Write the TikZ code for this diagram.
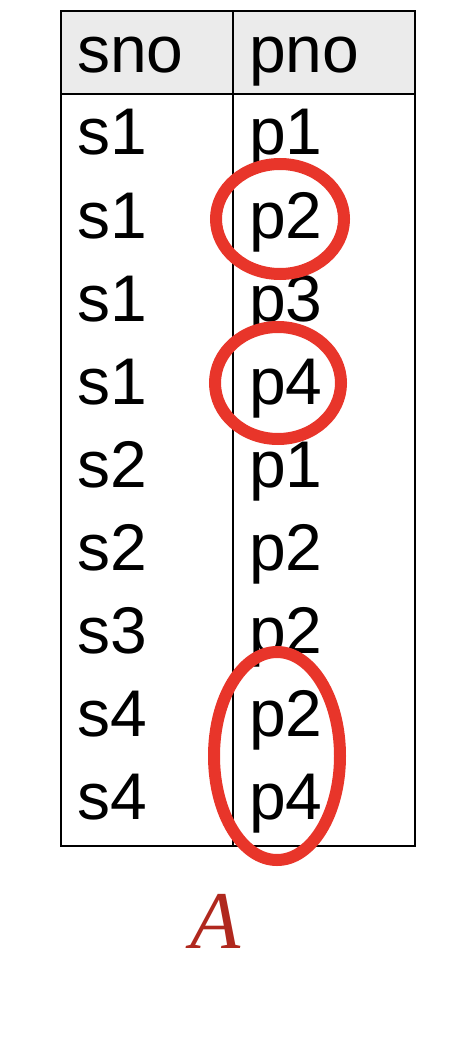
\documentclass[tikz,border=0pt]{standalone}
\usepackage{fontspec}
\setmainfont{Liberation Sans}
\newfontfamily\relfont{Liberation Serif}
\usetikzlibrary{shapes.geometric}
\definecolor{headgray}{HTML}{EBEBEB}
\definecolor{ringred}{HTML}{E8352A}
\definecolor{relred}{HTML}{B0281E}

\begin{document}
\begin{tikzpicture}[x=1pt,y=-1pt,
  cell/.style={anchor=base west,inner sep=0pt,font=\fontsize{66}{70}\selectfont},
  ring/.style={draw=ringred,line width=12pt,ellipse,inner sep=0pt}]
\useasboundingbox (0,0) rectangle (454,1048);
\fill[headgray] (61,11) rectangle (415,94);
\draw[line width=2pt]
     (61,11) rectangle (415,846);
\draw[line width=2pt]
     (61,94) -- (415,94);
\draw[line width=2pt]
     (233,11) -- (233,846);
\node[cell] (sno) at (77,73) {sno};
\node[cell] (pno) at (249,73) {pno};
\foreach \s/\p [count=\i] in {s1/p1,s1/p2,s1/p3,s1/p4,s2/p1,s2/p2,s3/p2,s4/p2,s4/p4}
{
  \node[cell] (s\i) at (77,{155+83.1*(\i-1)}) {\s};
  \node[cell] (p\i) at (249,{155+83.1*(\i-1)}) {\p};
}
\node[ring,minimum width=128,minimum height=110] (ring2) at (280,219) {};
\node[ring,minimum width=126,minimum height=112] (ring4) at (278,383) {};
\node[ring,minimum width=126,minimum height=208] (ring89) at (277,756) {};
\node[text=relred,font=\relfont\itshape\fontsize{82}{90}\selectfont] (rel) at (216,921) {A};
\end{tikzpicture}
\end{document}
